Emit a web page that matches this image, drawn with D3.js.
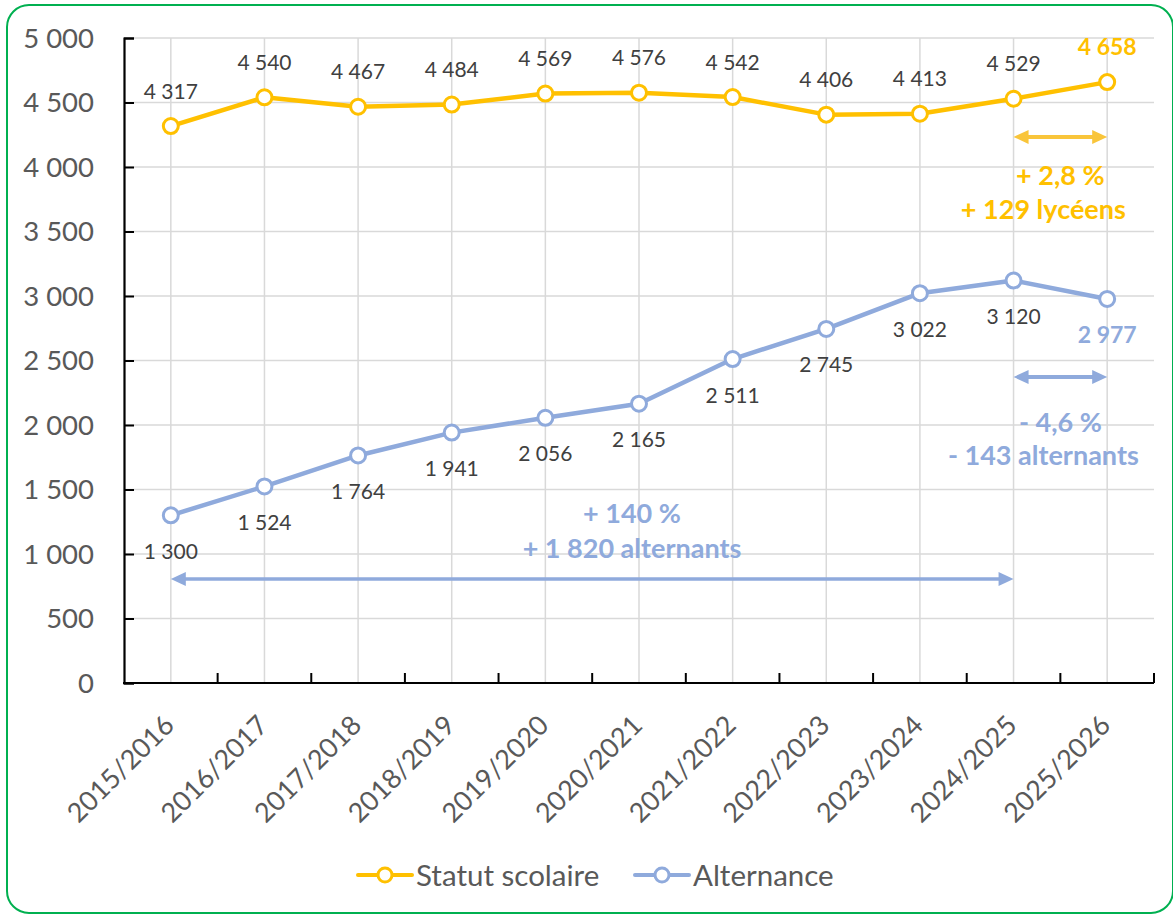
<!DOCTYPE html>
<html><head><meta charset="utf-8">
<script src="https://cdn.jsdelivr.net/npm/d3@7"></script>
<style>
html,body{margin:0;padding:0;background:#fff;}
svg{display:block;font-family:Lato,"Noto Sans",sans-serif;}
</style></head>
<body>
<svg id="chart" width="1173" height="915"></svg>
<script>
const categories = ["2015/2016","2016/2017","2017/2018","2018/2019","2019/2020","2020/2021","2021/2022","2022/2023","2023/2024","2024/2025","2025/2026"];
const scolaire = [4317,4540,4467,4484,4569,4576,4542,4406,4413,4529,4658];
const alternance = [1300,1524,1764,1941,2056,2165,2511,2745,3022,3120,2977];
const yTicks = [0,500,1000,1500,2000,2500,3000,3500,4000,4500,5000];
const seriesNames = ["Statut scolaire","Alternance"];
const colors = {scolaire:"#FFC000", alternance:"#8FAADC"};

const svg = d3.select("#chart");
const m = {left:124, right:1154, top:38, bottom:683};

// frame
svg.append("rect").attr("x",7).attr("y",5).attr("width",1166).attr("height",908)
  .attr("rx",22).attr("ry",22).attr("fill","#fff").attr("stroke","#00B050").attr("stroke-width",2);

const x = d3.scaleBand().domain(categories).range([m.left,m.right]).paddingInner(0).paddingOuter(0);
const cx = c => x(c) + x.bandwidth()/2;
const y = d3.scaleLinear().domain([0,5000]).range([m.bottom,m.top]);
const fmt = v => d3.format(",")(v).replace(/,/g," ");

// gridlines
const g = svg.append("g");
g.selectAll("line.hg").data(yTicks.filter(d=>d>0)).join("line")
  .attr("x1",m.left).attr("x2",m.right).attr("y1",d=>y(d)).attr("y2",d=>y(d))
  .attr("stroke","#D9D9D9").attr("stroke-width",1.5);
g.selectAll("line.vg").data(categories).join("line")
  .attr("x1",d=>cx(d)).attr("x2",d=>cx(d)).attr("y1",m.top).attr("y2",m.bottom)
  .attr("stroke","#D9D9D9").attr("stroke-width",1.5);

// y axis
const yAxis = d3.axisRight(y).tickValues(yTicks).tickSize(10).tickFormat("");
const ya = svg.append("g").attr("transform",`translate(${m.left},0)`).call(yAxis);
ya.select(".domain").attr("stroke","#000").attr("stroke-width",2.2);
ya.selectAll(".tick line").attr("stroke","#000").attr("stroke-width",2);
svg.append("g").selectAll("text").data(yTicks).join("text")
  .attr("x",94).attr("y",d=>y(d)).attr("dy","0.36em").attr("text-anchor","end")
  .attr("font-size",27.5).attr("fill","#595959").text(d=>fmt(d));

// x axis (ticks at band boundaries, pointing inward)
const xa = svg.append("g").attr("transform",`translate(0,${m.bottom})`);
xa.append("line").attr("x1",m.left-1).attr("x2",m.right).attr("y1",0).attr("y2",0)
  .attr("stroke","#000").attr("stroke-width",2.2);
const bounds = categories.map(c => x(c) + x.bandwidth());
xa.selectAll("line.t").data(bounds).join("line")
  .attr("x1",d=>d).attr("x2",d=>d).attr("y1",0).attr("y2",-10)
  .attr("stroke","#000").attr("stroke-width",2);
svg.append("g").selectAll("text").data(categories).join("text")
  .attr("transform",d=>`translate(${cx(d)+5},727) rotate(-45)`)
  .attr("text-anchor","end").attr("font-size",27).attr("fill","#595959").text(d=>d);

// annotation arrows (in data units)
function arrow(x1,x2,yv,color,w,head){
  const yy = y(yv);
  svg.append("line").attr("x1",x1+head).attr("x2",x2-head).attr("y1",yy).attr("y2",yy)
    .attr("stroke",color).attr("stroke-width",w);
  svg.append("path").attr("d",`M${x1},${yy}L${x1+head+1},${yy-7}L${x1+head+1},${yy+7}Z`).attr("fill",color);
  svg.append("path").attr("d",`M${x2},${yy}L${x2-head-1},${yy-7}L${x2-head-1},${yy+7}Z`).attr("fill",color);
}
const last = categories.length-1;
arrow(cx(categories[last-1]), cx(categories[last]), 4233, "#F9C53A", 4, 14);
arrow(cx(categories[last-1]), cx(categories[last]), 2372, "#8FAADC", 4, 14);
arrow(cx(categories[0]), cx(categories[last-1]), 806, "#8FAADC", 3.5, 14);

function note(xc, yv, txt, color, size){
  svg.append("text").attr("x",xc).attr("y",y(yv)).attr("dy","0.36em")
    .attr("text-anchor","middle").attr("font-weight","bold").attr("font-size",size)
    .attr("fill",color).text(txt);
}
const midLast = (cx(categories[last-1])+cx(categories[last]))/2;
note(midLast, 3938, "+ 2,8 %", colors.scolaire, 27);
note(midLast-17, 3674, "+ 129 lycéens", colors.scolaire, 27);
note(midLast, 2023, "- 4,6 %", colors.alternance, 27);
note(midLast-17, 1767, "- 143 alternants", colors.alternance, 27);
note(cx(categories[5])-7, 1318, "+ 140 %", colors.alternance, 27);
note(cx(categories[5])-7, 1047, "+ 1 820 alternants", colors.alternance, 27);

// lines
const line = d3.line().x((d,i)=>cx(categories[i])).y(d=>y(d));
function series(vals,color,above){
  svg.append("path").datum(vals).attr("d",line).attr("fill","none")
    .attr("stroke",color).attr("stroke-width",4.5).attr("stroke-linejoin","round");
  svg.append("g").selectAll("circle").data(vals).join("circle")
    .attr("cx",(d,i)=>cx(categories[i])).attr("cy",d=>y(d)).attr("r",7.5)
    .attr("fill","#fff").attr("stroke",color).attr("stroke-width",3);
  svg.append("g").selectAll("text").data(vals).join("text")
    .attr("x",(d,i)=>cx(categories[i])).attr("y",d=>y(d)+(above?-35:36)).attr("dy","0.36em")
    .attr("text-anchor","middle")
    .attr("font-size",(d,i)=>i===vals.length-1?23:21)
    .attr("font-weight",(d,i)=>i===vals.length-1?"bold":"normal")
    .attr("fill",(d,i)=>i===vals.length-1?color:"#404040")
    .text(d=>fmt(d));
}
series(scolaire, colors.scolaire, true);
series(alternance, colors.alternance, false);

// legend
const leg = [{name:seriesNames[0],c:colors.scolaire,x:358},{name:seriesNames[1],c:colors.alternance,x:635}];
const lg = svg.append("g").selectAll("g").data(leg).join("g").attr("transform",d=>`translate(${d.x},875)`);
lg.append("line").attr("x1",0).attr("x2",54).attr("y1",0).attr("y2",0).attr("stroke",d=>d.c).attr("stroke-width",4).attr("stroke-linecap","round");
lg.append("circle").attr("cx",27).attr("cy",0).attr("r",7).attr("fill","#fff").attr("stroke",d=>d.c).attr("stroke-width",3);
lg.append("text").attr("x",58).attr("y",0).attr("dy","0.36em").attr("font-size",29.5).attr("fill","#595959").text(d=>d.name);
</script>
</body></html>
